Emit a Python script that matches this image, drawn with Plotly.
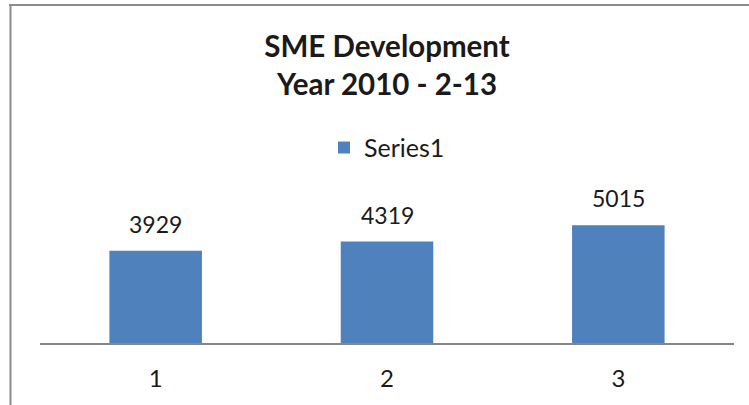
import plotly.graph_objects as go

categories = ["1", "2", "3"]
positions = [1, 2, 3]
values = [3929, 4319, 5015]
series_name = "Series1"
title_lines = ["SME Development", "Year 2010 - 2-13"]

BAR_COLOR = "#4F81BD"
FONT = "Lato"
TEXT = "#1a1a1a"

fig = go.Figure()
fig.add_trace(go.Bar(
    x=positions, y=values, name=series_name,
    marker=dict(color=BAR_COLOR, line=dict(width=0)),
    width=0.4, showlegend=True,
))

for p, v in zip(positions, values):
    fig.add_annotation(x=p, y=v, text=str(v), showarrow=False,
                       yanchor="middle", yshift=27,
                       font=dict(family=FONT, size=23, color=TEXT))

# outer chart border (top and left edges visible)
border = dict(color="#8a8a8a", width=2)
fig.add_shape(type="line", xref="paper", yref="paper",
              x0=-0.0445, x1=1.05, y0=2.397, y1=2.397, line=border)
fig.add_shape(type="line", xref="paper", yref="paper",
              x0=-0.0425, x1=-0.0425, y0=2.404, y1=-0.6, line=border)

fig.update_layout(
    width=749, height=405,
    margin=dict(l=40, r=15, t=202, b=62, pad=0, autoexpand=False),
    paper_bgcolor="white", plot_bgcolor="white",
    font=dict(family=FONT, color=TEXT),
    title=dict(text="<br>".join(title_lines), x=0.5, xref="paper", xanchor="center",
               y=1 - 57 / 405, yref="container", yanchor="middle",
               font=dict(family=FONT, size=29.5, color=TEXT, weight="bold")),
    legend=dict(orientation="h", x=0.5, xanchor="center", y=1.384, yanchor="middle",
                font=dict(family=FONT, size=25, color=TEXT),
                bgcolor="rgba(0,0,0,0)"),
    xaxis=dict(range=[0.5, 3.5], tickvals=positions, ticktext=categories,
               showline=True, linecolor="#868686", linewidth=2, ticks="",
               showgrid=False, zeroline=False,
               tickfont=dict(family=FONT, size=24, color=TEXT),
               ticklabelstandoff=13),
    yaxis=dict(range=[0, 6000], visible=False, showgrid=False, zeroline=False),
)

fig.write_html("out.html", config={"displayModeBar": False},
               post_script="document.body.style.margin='0';")
